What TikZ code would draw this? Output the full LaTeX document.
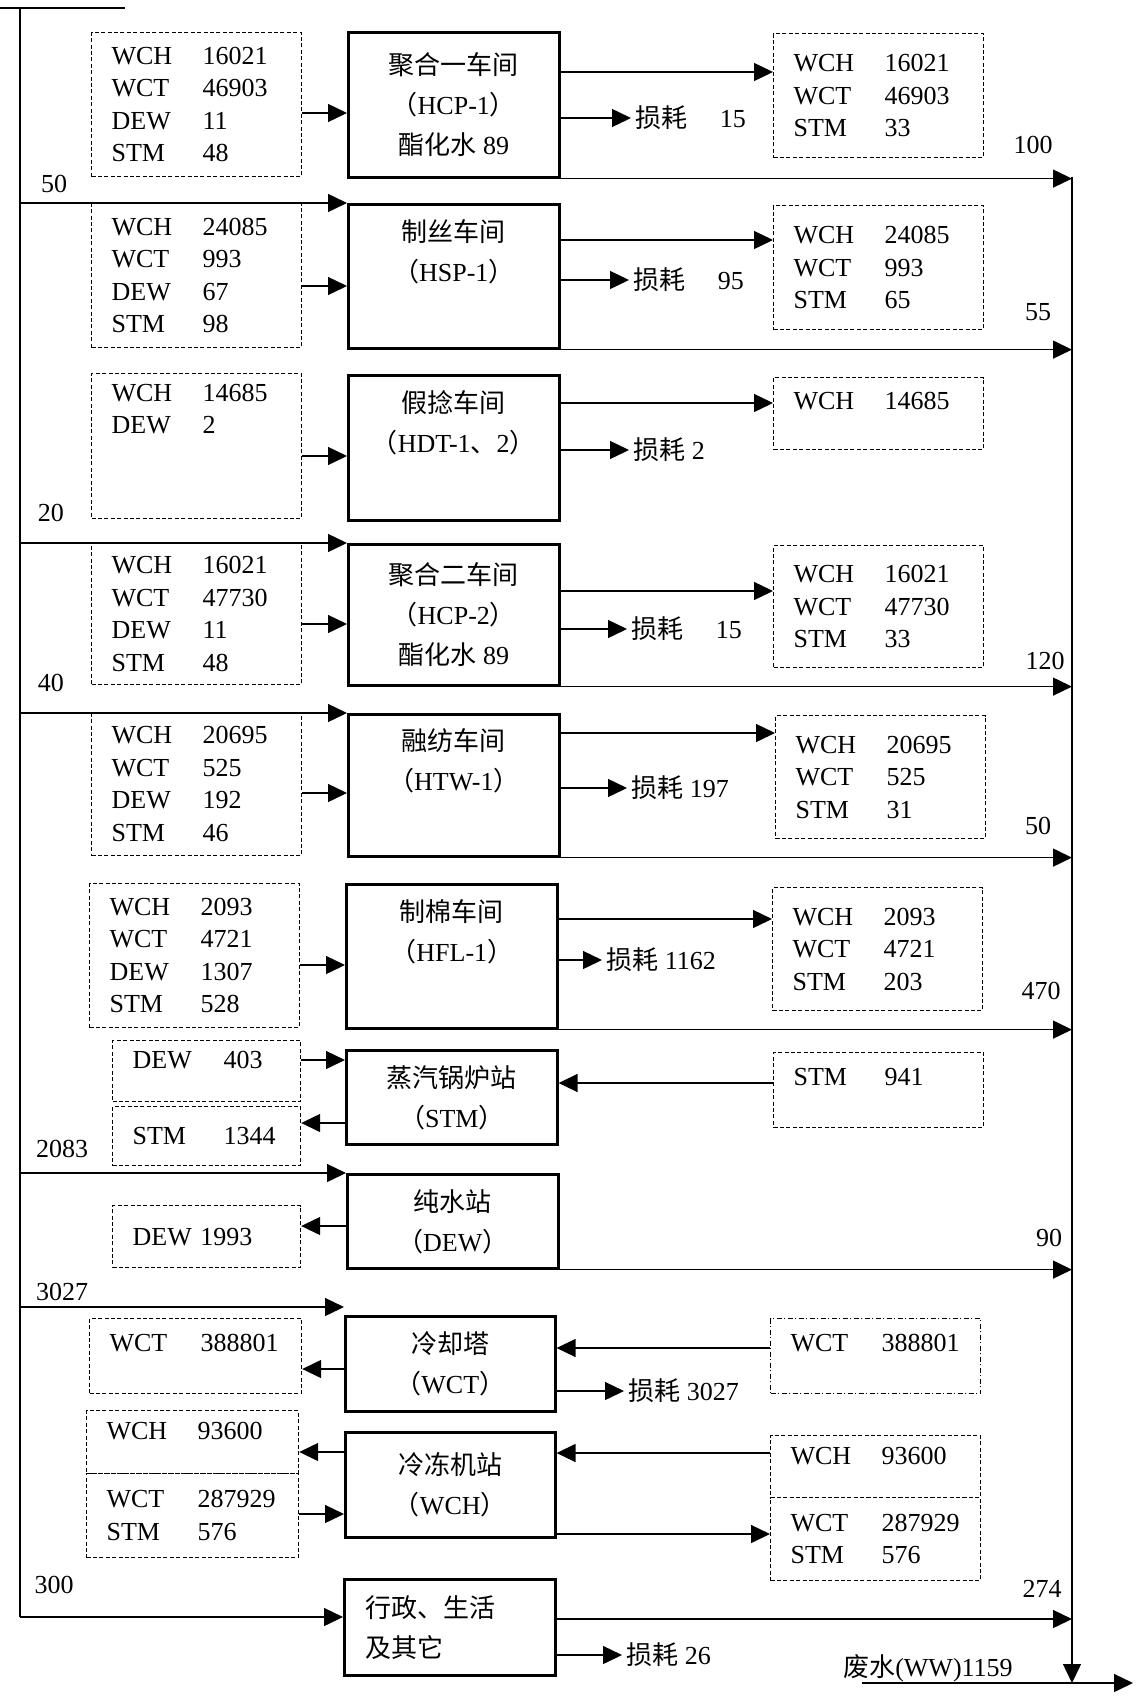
\documentclass[tikz,border=0pt]{standalone}
\usepackage{fontspec}
\setmainfont{Liberation Serif}
\newfontfamily\cjk{Noto Sans CJK SC}
\usetikzlibrary{arrows.meta}
\newcommand\zh[1]{{\cjk #1}}
\newcommand\zlp{{\cjk （}}
\newcommand\zrp{{\cjk ）}}
\newcommand\wq[2]{\makebox[3.5em][l]{#1}#2}
\begin{document}
\begin{tikzpicture}[
x=0.5pt, y=-0.5pt,
every node/.style={font=\fontsize{13}{16.25}\selectfont},
unit/.style={draw, line width=1.3pt, anchor=north west, align=center,
  minimum width=105.5pt, font=\fontsize{13}{20}\selectfont},
flow/.style={draw, line width=0.6pt, dash pattern=on 2pt off 1.2pt,
  anchor=north west, align=left, inner xsep=10pt, text width=85pt},
arr/.style={line width=0.7pt, -{Triangle[length=9.5pt,width=9pt]}},
loss/.style={anchor=west, inner sep=2pt}
]
\useasboundingbox (0,0) rectangle (1144,1697);
% fresh water main and waste water collector
\coordinate (feedin) at (0,8);
\coordinate (feedout) at (125,8);
\coordinate (src) at (20,8);
\coordinate (srcend) at (20,1617);
\coordinate (ww) at (1072,177);
\coordinate (wwend) at (1072,1683);
\coordinate (wwin) at (862,1683);
\coordinate (wwout) at (1133,1683);
\draw[line width=0.7pt] (feedin) -- (feedout);
\draw[line width=0.7pt] (src) -- (srcend);

% HCP-1
\node[flow, minimum height=72pt] (hcpain) at (91,32) {\wq{WCH}{16021}\\\wq{WCT}{46903}\\\wq{DEW}{11}\\\wq{STM}{48}};
\node[unit, minimum height=72.5pt] (hcpa) at (347,31) {\zh{聚合一车间}\\\zlp HCP-1\zrp\\\zh{酯化水} 89};
\node[flow, minimum height=62pt] (hcpaout) at (773,33) {\wq{WCH}{16021}\\\wq{WCT}{46903}\\\wq{STM}{33}};
\node[loss] (hcpaloss) at (631,118) {\zh{损耗}\quad\ 15};
\draw[arr] (hcpain.east |- 0,113) -- (hcpa.west |- 0,113);
\draw[arr] (hcpa.east |- 0,72) -- (hcpaout.west |- 0,72);
\draw[arr] (hcpa.east |- hcpaloss) -- (hcpaloss.west);
\draw[arr] (hcpa.south east) -- (hcpa.south east -| ww);
\node (dhcpa) at (1033,145) {100};

% HSP-1
\node (fhsp) at (54,184) {50};
\node[flow, minimum height=72pt] (hspin) at (91,203) {\wq{WCH}{24085}\\\wq{WCT}{993}\\\wq{DEW}{67}\\\wq{STM}{98}};
\node[unit, minimum height=72pt] (hsp) at (347,203) {\zh{制丝车间}\\\zlp HSP-1\zrp\\\strut};
\node[flow, minimum height=62pt] (hspout) at (773,205) {\wq{WCH}{24085}\\\wq{WCT}{993}\\\wq{STM}{65}};
\node[loss] (hsploss) at (629,280) {\zh{损耗}\quad\ 95};
\draw[arr] (src |- hsp.north west) -- (hsp.north west);
\draw[arr] (hspin.east |- 0,286) -- (hsp.west |- 0,286);
\draw[arr] (hsp.east |- 0,240) -- (hspout.west |- 0,240);
\draw[arr] (hsp.east |- hsploss) -- (hsploss.west);
\draw[arr] (hsp.south east) -- (hsp.south east -| ww);
\node (dhsp) at (1038,312) {55};

% HDT-1,2
\node[flow, minimum height=72.5pt] (hdtin) at (91,373) {\wq{WCH}{14685}\\\wq{DEW}{2}\\\strut\\\strut};
\node[unit, minimum height=72.5pt] (hdt) at (347,374) {\zh{假捻车间}\\\zlp HDT-1\zh{、}2\zrp\\\strut};
\node[flow, minimum height=36pt] (hdtout) at (773,377) {\wq{WCH}{14685}\\[-8pt]\strut};
\node[loss] (hdtloss) at (629,450) {\zh{损耗} 2};
\draw[arr] (hdtin.east |- 0,456) -- (hdt.west |- 0,456);
\draw[arr] (hdt.east |- 0,403) -- (hdtout.west |- 0,403);
\draw[arr] (hdt.east |- hdtloss) -- (hdtloss.west);

% HCP-2
\node (fhcpb) at (51,513) {20};
\node[flow, minimum height=70.5pt] (hcpbin) at (91,543) {\wq{WCH}{16021}\\\wq{WCT}{47730}\\\wq{DEW}{11}\\\wq{STM}{48}};
\node[unit, minimum height=70.5pt] (hcpb) at (347,543) {\zh{聚合二车间}\\\zlp HCP-2\zrp\\\zh{酯化水} 89};
\node[flow, minimum height=61pt] (hcpbout) at (773,545) {\wq{WCH}{16021}\\\wq{WCT}{47730}\\\wq{STM}{33}};
\node[loss] (hcpbloss) at (627,629) {\zh{损耗}\quad\ 15};
\draw[arr] (src |- hcpb.north west) -- (hcpb.north west);
\draw[arr] (hcpbin.east |- 0,624) -- (hcpb.west |- 0,624);
\draw[arr] (hcpb.east |- 0,591) -- (hcpbout.west |- 0,591);
\draw[arr] (hcpb.east |- hcpbloss) -- (hcpbloss.west);
\draw[arr] (hcpb.south east) -- (hcpb.south east -| ww);
\node (dhcpb) at (1045,661) {120};

% HTW-1
\node (fhtw) at (51,683) {40};
\node[flow, minimum height=71.5pt] (htwin) at (91,712) {\wq{WCH}{20695}\\\wq{WCT}{525}\\\wq{DEW}{192}\\\wq{STM}{46}};
\node[unit, minimum height=71pt] (htw) at (347,713) {\zh{融纺车间}\\\zlp HTW-1\zrp\\\strut};
\node[flow, minimum height=61.5pt] (htwout) at (775,715) {\wq{WCH}{20695}\\\wq{WCT}{525}\\\wq{STM}{31}};
\node[loss] (htwloss) at (627,788) {\zh{损耗} 197};
\draw[arr] (src |- htw.north west) -- (htw.north west);
\draw[arr] (htwin.east |- 0,793) -- (htw.west |- 0,793);
\draw[arr] (htw.east |- 0,733) -- (htwout.west |- 0,733);
\draw[arr] (htw.east |- htwloss) -- (htwloss.west);
\draw[arr] (htw.south east) -- (htw.south east -| ww);
\node (dhtw) at (1038,826) {50};

% HFL-1
\node[flow, minimum height=72pt] (hflin) at (89,883) {\wq{WCH}{2093}\\\wq{WCT}{4721}\\\wq{DEW}{1307}\\\wq{STM}{528}};
\node[unit, minimum height=72pt] (hfl) at (345,883) {\zh{制棉车间}\\\zlp HFL-1\zrp\\\strut};
\node[flow, minimum height=61.5pt] (hflout) at (772,887) {\wq{WCH}{2093}\\\wq{WCT}{4721}\\\wq{STM}{203}};
\node[loss] (hflloss) at (602,960) {\zh{损耗} 1162};
\draw[arr] (hflin.east |- 0,965) -- (hfl.west |- 0,965);
\draw[arr] (hfl.east |- 0,919) -- (hflout.west |- 0,919);
\draw[arr] (hfl.east |- hflloss) -- (hflloss.west);
\draw[arr] (hfl.south east) -- (hfl.south east -| ww);
\node (dhfl) at (1041,991) {470};

% steam boiler
\node[flow, text width=74pt, minimum height=30.5pt] (stmin) at (112,1040) {\wq{DEW}{403}\\[-10pt]\strut};
\node[flow, text width=74pt, minimum height=29.5pt] (stmout) at (112,1106) {\wq{STM}{1344}};
\node[unit, minimum height=47pt] (stm) at (345,1049) {\zh{蒸汽锅炉站}\\\zlp STM\zrp};
\node[flow, minimum height=37.5pt] (stmret) at (773,1052) {\wq{STM}{941}\\[-8pt]\strut};
\draw[arr] (stmin.east |- 0,1060) -- (stm.west |- 0,1060);
\draw[arr] (stm.west |- 0,1123) -- (stmout.east |- 0,1123);
\draw[arr] (stmret.west |- 0,1083) -- (stm.east |- 0,1083);
\node (fdew) at (62,1149) {2083};

% pure water
\node[unit, minimum height=47pt] (dew) at (346,1173) {\zh{纯水站}\\\zlp DEW\zrp};
\node[flow, text width=74pt, minimum height=31pt] (dewout) at (112,1205) {DEW 1993};
\draw[arr] (src |- dew.north west) -- (dew.north west);
\draw[arr] (dew.west |- 0,1226) -- (dewout.east |- 0,1226);
\draw[arr] (dew.south east) -- (dew.south east -| ww);
\node (ddew) at (1049,1238) {90};

% cooling tower
\node (fwct) at (62,1292) {3027};
\node[flow, text width=86pt, minimum height=37.5pt] (wctout) at (89,1318) {\wq{WCT}{388801}\\[-8pt]\strut};
\node[unit, minimum width=105pt, minimum height=47.5pt] (wct) at (344,1315) {\zh{冷却塔}\\\zlp WCT\zrp};
\node[flow, dash pattern=on 2.5pt off 1.2pt on 0.6pt off 1.2pt, minimum height=37.5pt] (wctret) at (770,1318) {\wq{WCT}{388801}\\[-8pt]\strut};
\node[loss] (wctloss) at (624,1391) {\zh{损耗} 3027};
\draw[arr] (src |- 0,1307) -- (wct.west |- 0,1307);
\draw[arr] (wct.west |- 0,1369) -- (wctout.east |- 0,1369);
\draw[arr] (wctret.west |- 0,1348) -- (wct.east |- 0,1348);
\draw[arr] (wct.east |- wctloss) -- (wctloss.west);

% chiller station
\node[flow, text width=86pt, minimum height=31.5pt] (wchout) at (86,1410) {\wq{WCH}{93600}\\[-10pt]\strut};
\node[flow, text width=86pt, minimum height=42pt] (wchin) at (86,1473) {\wq{WCT}{287929}\\\wq{STM}{576}};
\node[unit, minimum width=105pt, minimum height=52.5pt] (wch) at (344,1431) {\zh{冷冻机站}\\\zlp WCH\zrp};
\node[flow, minimum height=31pt] (wchret) at (770,1435) {\wq{WCH}{93600}\\[-10pt]\strut};
\node[flow, minimum height=41.5pt] (wchsend) at (770,1497) {\wq{WCT}{287929}\\\wq{STM}{576}};
\draw[arr] (wch.west |- 0,1452) -- (wchout.east |- 0,1452);
\draw[arr] (wchin.east |- 0,1514) -- (wch.west |- 0,1514);
\draw[arr] (wchret.west |- 0,1453) -- (wch.east |- 0,1453);
\draw[arr] (wch.east |- 0,1534) -- (wchsend.west |- 0,1534);

% office and living
\node (fadm) at (54,1585) {300};
\node[unit, align=left, text width=84.5pt, inner xsep=10pt, minimum height=48pt] (adm) at (343,1578) {\zh{行政、生活}\\\zh{及其它}};
\node[loss] (admloss) at (622,1655) {\zh{损耗} 26};
\draw[arr] (srcend) -- (adm.west |- srcend);
\draw[arr] (adm.east |- 0,1619) -- (ww |- 0,1619);
\draw[arr] (adm.east |- admloss) -- (admloss.west);
\node (dadm) at (1042,1589) {274};

% waste water out
\draw[arr] (ww) -- (wwend);
\draw[arr] (wwin) -- (wwout);
\node (wwlabel) at (928,1668) {\zh{废水}(WW)1159};
\end{tikzpicture}
\end{document}
